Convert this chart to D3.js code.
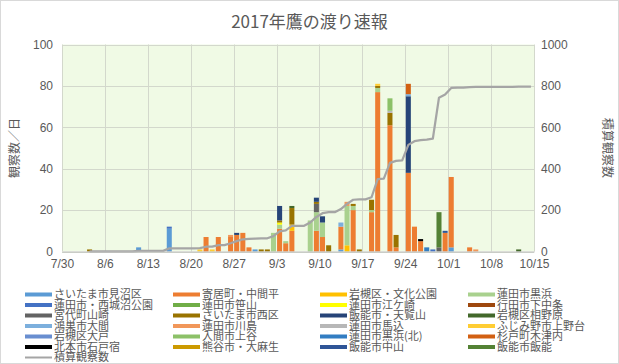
<!DOCTYPE html>
<html><head><meta charset="utf-8">
<script src="https://cdn.jsdelivr.net/npm/d3@7"></script>
<style>
html,body{margin:0;padding:0;background:#fff;}
svg{display:block;font-family:"Noto Sans CJK JP","Noto Sans",sans-serif;}
</style></head>
<body>
<svg id="c" width="619" height="364"></svg>
<script>
// ---------- DATA ----------
const title = "2017年鷹の渡り速報";
const leftAxisTitle = "観察数／日";
const rightAxisTitle = "積算観察数";
const xTickLabels = ["7/30","8/6","8/13","8/20","8/27","9/3","9/10","9/17","9/24","10/1","10/8","10/15"];
const leftTicks = [0,20,40,60,80,100];
const rightTicks = [0,200,400,600,800,1000];

const seriesNames = [
  "さいたま市見沼区","寄居町・中間平","岩槻区・文化公園","蓮田市黒浜",
  "蓮田市・西城沼公園","蓮田市笹山","蓮田市江ケ崎","行田市下中条",
  "宮代町山崎","さいたま市西区","飯能市・天覧山","岩槻区相野原",
  "鴻巣市大間","蓮田市川島","蓮田市馬込","ふじみ野市上野台",
  "岩槻区大戸","入間市上谷","蓮田市黒浜(北)","杉戸町木津内",
  "北本市石戸宿","熊谷市・大麻生","飯能市中山","飯能市飯能"
];
const seriesColors = [
  "#5B9BD5","#ED7D31","#FFC000","#A9D18E",
  "#4472C4","#70AD47","#FFFF00","#9E480E",
  "#636363","#997300","#264478","#43682B",
  "#7CAFDD","#F1975A","#B7B7B7","#FFCD33",
  "#698ED0","#8CC168","#327DC2","#D26012",
  "#000000","#CC9A00","#2F5597","#548235"
];
// [date, count] per series (same order as seriesNames)
const s01 = [["8/11",2],["8/16",11],["8/30",1],["9/13",1],["10/1",2]];
const s02 = [["8/22",7],["8/24",7],["8/26",7],["8/27",8],["8/28",9],["8/29",2],["9/3",11],["9/4",4],["9/5",10],["9/9",10],["9/10",7],["9/13",11],["9/15",20],["9/18",19],["9/19",77],["9/21",61],["9/22",2],["9/24",38],["9/25",12],["9/26",5],["9/30",9],["10/1",34],["10/4",2]];
const s03 = [["9/5",3],["9/14",3]];
const s04 = [["9/2",9],["9/3",2],["9/4",1],["9/8",15],["9/9",9],["9/10",7],["9/14",19],["9/15",2],["9/18",1],["9/19",2]];
const s05 = [["8/16",1],["9/28",1]];
const s06 = [];
const s07 = [["9/3",1]];
const s08 = [];
const s09 = [["9/9",4],["9/29",2]];
const s10 = [["8/3",1],["8/31",1],["9/1",1],["9/3",1],["9/5",8],["9/9",1],["9/11",3],["9/15",1],["9/16",1],["9/18",5],["9/19",1],["9/21",6],["9/22",6]];
const s11 = [["8/27",1],["9/3",7],["9/9",2],["9/10",3],["9/24",37]];
const s12 = [["9/5",1],["10/12",1]];
const s13 = [["9/13",2],["9/24",1]];
const s14 = [["8/26",1],["9/14",2],["10/5",1]];
const s15 = [["9/21",1]];
const s16 = [["8/21",1],["8/23",1],["9/19",1]];
const s17 = [];
const s18 = [["9/21",6]];
const s19 = [["9/27",2]];
const s20 = [["9/24",5]];
const s21 = [["9/26",1]];
const s22 = [];
const s23 = [["9/30",1]];
const s24 = [["9/29",17]];
const seriesData = [s01,s02,s03,s04,s05,s06,s07,s08,s09,s10,s11,s12,s13,s14,s15,s16,s17,s18,s19,s20,s21,s22,s23,s24];

// cumulative count, one value per day from 8/3 to 10/14
const cumStart = "8/3";
const cumValues = [
  1,1,1,1,1,1,1,1,3,3,3,3,3,15,15,15,15,15,16,23,24,31,31,40,50,59,61,62,63,
  64,74,97,102,124,124,124,140,167,185,190,190,205,230,250,252,252,262,350,352,428,438,440,515,533,538,541,545,743,758,
  790,792,792,794,795,795,795,795,795,795,795,796,796,796
];
const lineName = "積算観察数";

// ---------- CHART ----------
const W = 619, H = 364;
const svg = d3.select("#c");
const textColor = "#595959";
const parse = s => { const [m,d] = s.split("/").map(Number); return new Date(2017, m-1, d); };

const plot = {l: 62, r: 534, t: 44.5, b: 251.5};
const x = d3.scaleTime().domain([parse("7/30"), parse("10/15")]).range([plot.l, plot.r]);
const y = d3.scaleLinear().domain([0,100]).range([plot.b, plot.t]);
const y2 = d3.scaleLinear().domain([0,1000]).range([plot.b, plot.t]);

// outer border
svg.append("rect").attr("x",0.5).attr("y",0.5).attr("width",W-1).attr("height",H-1)
  .attr("fill","#fff").attr("stroke","#D9D9D9");

// plot background
svg.append("rect").attr("x",plot.l).attr("y",plot.t).attr("width",plot.r-plot.l).attr("height",plot.b-plot.t)
  .attr("fill","#F0FAE5");

// gridlines
const gridColor = "#D3D8CC";
svg.append("g").selectAll("line").data(leftTicks).join("line")
  .attr("x1",plot.l).attr("x2",plot.r).attr("y1",d=>Math.round(y(d))+0.5).attr("y2",d=>Math.round(y(d))+0.5)
  .attr("stroke",gridColor);
const xTickDates = xTickLabels.map(parse);
svg.append("g").selectAll("line").data(xTickDates).join("line")
  .attr("x1",d=>Math.round(x(d))+0.5).attr("x2",d=>Math.round(x(d))+0.5).attr("y1",plot.t).attr("y2",plot.b)
  .attr("stroke",gridColor);

// stacked bars
const dayKeys = Array.from(new Set(seriesData.flat().map(d=>d[0])));
const table = dayKeys.map(k => {
  const row = {date: parse(k)};
  seriesData.forEach((s,i) => { const f = s.find(p=>p[0]===k); row["s"+i] = f ? f[1] : 0; });
  return row;
});
const keys = seriesNames.map((_,i)=>"s"+i);
const stacked = d3.stack().keys(keys)(table);
const dayW = x(parse("7/31")) - x(parse("7/30"));
const pad = 0.55;
svg.append("g").selectAll("g").data(stacked).join("g")
  .attr("fill",(d,i)=>seriesColors[i])
  .selectAll("rect").data(d=>d.filter(e=>e[1]-e[0]>0)).join("rect")
  .attr("x",d=>x(d.data.date)+pad)
  .attr("width",dayW-2*pad)
  .attr("y",d=>y(d[1]))
  .attr("height",d=>y(d[0])-y(d[1]));

// cumulative line
const start = parse(cumStart);
const cumData = cumValues.map((v,i)=>({date: d3.timeDay.offset(start,i), v}));
svg.append("path").datum(cumData)
  .attr("fill","none").attr("stroke","#A5A5A5").attr("stroke-width",2.25).attr("stroke-linejoin","round")
  .attr("d", d3.line().x(d=>x(d.date)+dayW/2).y(d=>y2(d.v)));

// axes
const xAxis = d3.axisBottom(x).tickValues(xTickDates).tickFormat(d3.timeFormat("%-m/%-d")).tickSize(0).tickPadding(8);
const gx = svg.append("g").attr("transform",`translate(0,${plot.b})`).call(xAxis);
gx.select(".domain").attr("stroke","#BFBFBF");
gx.selectAll("text").attr("fill",textColor).style("font-size","12px");

const gl = svg.append("g").attr("transform",`translate(${plot.l},0)`).call(d3.axisLeft(y).tickValues(leftTicks).tickFormat(d3.format("d")).tickSize(0).tickPadding(9));
gl.select(".domain").remove();
gl.selectAll("text").attr("fill",textColor).style("font-size","12px");

const gr = svg.append("g").attr("transform",`translate(${plot.r},0)`).call(d3.axisRight(y2).tickValues(rightTicks).tickFormat(d3.format("d")).tickSize(0).tickPadding(7));
gr.select(".domain").remove();
gr.selectAll("text").attr("fill",textColor).style("font-size","12px");

// titles
svg.append("text").attr("x",W/2).attr("y",28).attr("text-anchor","middle")
  .attr("fill",textColor).style("font-size","17px").text(title);
svg.append("text").attr("transform",`translate(19,${(plot.t+plot.b)/2}) rotate(-90)`).attr("text-anchor","middle")
  .attr("fill",textColor).style("font-size","12px").text(leftAxisTitle);
svg.append("text").attr("transform",`translate(603,${(plot.t+plot.b)/2}) rotate(90)`).attr("text-anchor","middle")
  .attr("fill",textColor).style("font-size","12px").text(rightAxisTitle);

// legend
const colX = [25,173,320,468];
const rowY0 = 294.5, rowH = 10.5;
const legendItems = seriesNames.map((n,i)=>({name:n,color:seriesColors[i],type:"bar"}));
legendItems.push({name:lineName,color:"#A5A5A5",type:"line"});
const lg = svg.append("g").selectAll("g").data(legendItems).join("g")
  .attr("transform",(d,i)=>`translate(${colX[i%4]},${rowY0+Math.floor(i/4)*rowH})`);
lg.filter(d=>d.type==="bar").append("rect").attr("x",0).attr("y",-2).attr("width",27).attr("height",4).attr("fill",d=>d.color);
lg.filter(d=>d.type==="line").append("line").attr("x1",0).attr("x2",27).attr("y1",0).attr("y2",0).attr("stroke",d=>d.color).attr("stroke-width",2);
lg.append("text").attr("x",29).attr("y",0).attr("dy","0.36em").attr("fill",textColor)
  .style("font-size","11px").text(d=>d.name);
</script>
</body></html>
